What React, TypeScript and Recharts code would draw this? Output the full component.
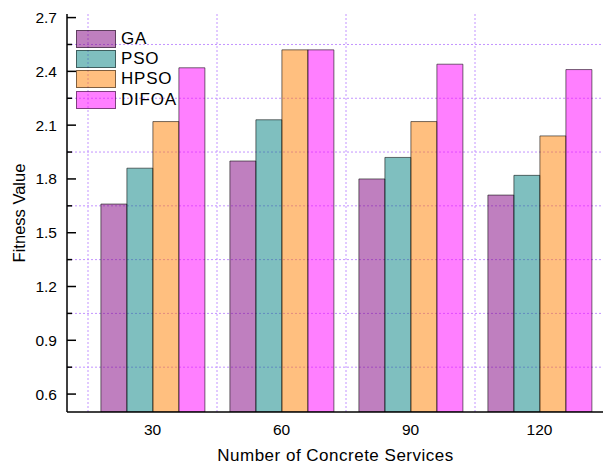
import React from 'react'
import { BarChart, Bar, XAxis, YAxis, CartesianGrid, Legend } from 'recharts'

// Fitness values per number of concrete services
const categories = ['30', '60', '90', '120']
const gaValues = [1.66, 1.9, 1.8, 1.71]
const psoValues = [1.86, 2.13, 1.92, 1.82]
const hpsoValues = [2.12, 2.52, 2.12, 2.04]
const difoaValues = [2.42, 2.52, 2.44, 2.41]

const yMajorTicks = [0.6, 0.9, 1.2, 1.5, 1.8, 2.1, 2.4, 2.7]
const yMinorTicks = [0.75, 1.05, 1.35, 1.65, 1.95, 2.25, 2.55]

const series = [
  { key: 'GA', color: '#800080' },
  { key: 'PSO', color: '#008080' },
  { key: 'HPSO', color: '#FF8000' },
  { key: 'DIFOA', color: '#FF00FF' }
]

const chartData = categories.map((n, i) => ({
  n,
  GA: gaValues[i],
  PSO: psoValues[i],
  HPSO: hpsoValues[i],
  DIFOA: difoaValues[i]
}))

const FONT = '"Liberation Sans", Arial, sans-serif'
const X_PAD_LEFT = 21
const Y_TICK_MARGIN = 10
const GRID_COLOR = '#C394FF'

function YTick({ x, y, payload }: any) {
  const axisX = x + Y_TICK_MARGIN
  const major = yMajorTicks.includes(payload.value)
  return (
    <g>
      <line x1={axisX} x2={axisX + (major ? 9 : 5)} y1={y} y2={y} stroke="#000" strokeWidth={1.5} />
      {major && (
        <text x={x} y={y} dy={5.5} textAnchor="end" fontSize={15.5} fill="#000">
          {payload.value.toFixed(1)}
        </text>
      )}
    </g>
  )
}

function LegendBox() {
  return (
    <div style={{ fontFamily: FONT }}>
      {series.map((s) => (
        <div key={s.key} style={{ display: 'flex', alignItems: 'center', height: 20.3 }}>
          <div
            style={{
              width: 38,
              height: 16,
              background: s.color + '80',
              border: '1px solid rgba(0,0,0,0.5)'
            }}
          />
          <span style={{ marginLeft: 5, fontSize: 17, letterSpacing: 0.8, color: '#000' }}>{s.key}</span>
        </div>
      ))}
    </div>
  )
}

export default function App() {
  return (
    <div
      style={{
        position: 'absolute',
        left: 0,
        top: 0,
        width: 603,
        height: 463,
        overflow: 'hidden',
        background: '#fff',
        fontFamily: FONT
      }}
    >
      <BarChart
        width={610}
        height={463}
        data={chartData}
        margin={{ top: 14, right: 6, left: 0, bottom: 0 }}
        barCategoryGap="10%"
        barGap={0}
      >
        <CartesianGrid
          stroke={GRID_COLOR}
          strokeDasharray="2 2"
          horizontalValues={yMinorTicks}
          verticalCoordinatesGenerator={({ offset }: any) => {
            const band = (offset.width - X_PAD_LEFT) / categories.length
            return categories.map((_, i) => offset.left + X_PAD_LEFT + i * band)
          }}
        />
        <XAxis
          dataKey="n"
          padding={{ left: X_PAD_LEFT, right: 0 }}
          height={51}
          tickLine={false}
          tickSize={0}
          tickMargin={12}
          axisLine={{ stroke: '#000', strokeWidth: 1.5 }}
          tick={{ fontSize: 15.5, fill: '#000' }}
          label={({ viewBox }: any) => (
            <text
              x={viewBox.x + viewBox.width / 2}
              y={viewBox.y + viewBox.height - 2}
              textAnchor="middle"
              fontSize={17}
              letterSpacing={0.5}
              fill="#000"
            >
              Number of Concrete Services
            </text>
          )}
        />
        <XAxis
          xAxisId="top"
          dataKey="n"
          orientation="top"
          height={0}
          tick={false}
          tickLine={false}
          axisLine={{ stroke: '#000', strokeWidth: 1.5 }}
        />
        <YAxis
          type="number"
          width={67}
          domain={[0.5, 2.72]}
          allowDataOverflow
          ticks={[...yMajorTicks, ...yMinorTicks].sort((a, b) => a - b)}
          interval={0}
          tickSize={0}
          tickMargin={Y_TICK_MARGIN}
          tickLine={false}
          axisLine={{ stroke: '#000', strokeWidth: 1.5 }}
          tick={<YTick />}
          label={({ viewBox }: any) => {
            const cx = viewBox.x + 19
            const cy = viewBox.y + viewBox.height / 2
            return (
              <text
                x={cx}
                y={cy}
                transform={`rotate(-90, ${cx}, ${cy})`}
                textAnchor="middle"
                dominantBaseline="central"
                fontSize={16.5}
                fill="#000"
              >
                Fitness Value
              </text>
            )
          }}
        />
        <Legend
          layout="vertical"
          align="center"
          verticalAlign="middle"
          content={() => <LegendBox />}
          wrapperStyle={{ left: 76, top: 28.5, width: 'auto', height: 'auto' }}
        />
        {series.map((s) => (
          <Bar
            key={s.key}
            dataKey={s.key}
            fill={s.color}
            fillOpacity={0.5}
            stroke="#000"
            strokeOpacity={0.55}
            strokeWidth={1}
            isAnimationActive={false}
          />
        ))}
      </BarChart>
    </div>
  )
}
